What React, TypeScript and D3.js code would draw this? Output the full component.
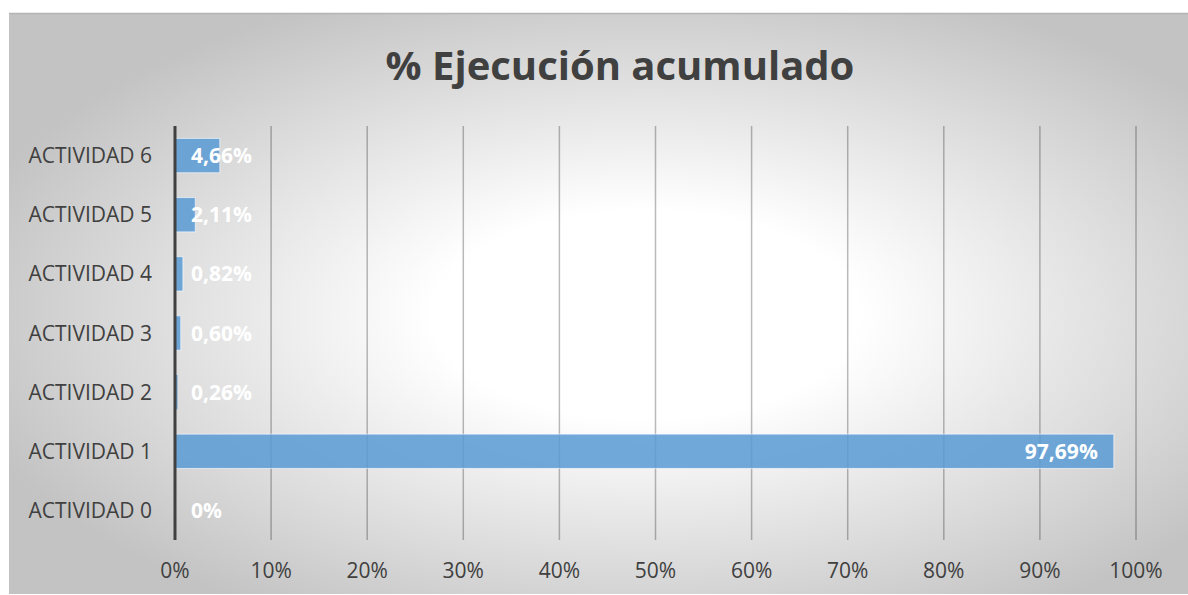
import React from "react";
import * as d3 from "d3";

const categories = ["ACTIVIDAD 0", "ACTIVIDAD 1", "ACTIVIDAD 2", "ACTIVIDAD 3", "ACTIVIDAD 4", "ACTIVIDAD 5", "ACTIVIDAD 6"];
const values = [0, 97.69, 0.26, 0.6, 0.82, 2.11, 4.66];
const valueLabels = ["0%", "97,69%", "0,26%", "0,60%", "0,82%", "2,11%", "4,66%"];
const xTicks = [0, 10, 20, 30, 40, 50, 60, 70, 80, 90, 100];
const title = "% Ejecución acumulado";

const W = 1188;
const H = 595;
const FONT = "'Open Sans', 'Noto Sans', sans-serif";

export default function App() {
  const x = d3.scaleLinear().domain([0, 100]).range([175, 1136]);
  const y = d3
    .scaleBand<string>()
    .domain([...categories].reverse())
    .range([126, 540])
    .paddingInner(0.42)
    .paddingOuter(0.21);

  const x0 = x(0);

  return (
    <svg
      width={W}
      height={H}
      style={{ position: "absolute", left: 0, top: 0, display: "block" }}
      fontFamily={FONT}
    >
      <defs>
        <radialGradient id="bg" cx="0.54" cy="0.52" r="0.6">
          <stop offset="0" stopColor="#ffffff" />
          <stop offset="0.3" stopColor="#ffffff" />
          <stop offset="1" stopColor="#c3c3c3" />
        </radialGradient>
      </defs>
      <rect x={0} y={0} width={W} height={H} fill="#ffffff" />
      <rect x={9} y={13} width={W - 9} height={581} fill="url(#bg)" />
      <line x1={9} x2={W} y1={13.5} y2={13.5} stroke="#b4b4b4" strokeWidth={1.5} />

      <text
        x={620}
        y={80}
        textAnchor="middle"
        fontSize={40}
        fontWeight={700}
        fill="#404040"
      >
        {title}
      </text>

      {xTicks.map((t) => (
        <line
          key={"g" + t}
          x1={x(t)}
          x2={x(t)}
          y1={126}
          y2={540}
          stroke="#000000"
          strokeOpacity={0.27}
          strokeWidth={1.5}
        />
      ))}

      {categories.map((c, i) => {
        const by = y(c)!;
        const bw = x(values[i]) - x0;
        return (
          <rect
            key={"b" + c}
            x={x0}
            y={by}
            width={Math.max(0, bw)}
            height={y.bandwidth()}
            fill="#5b9bd5"
            fillOpacity={0.86}
            stroke="#ffffff"
            strokeOpacity={0.6}
            strokeWidth={bw > 3 ? 1 : 0}
          />
        );
      })}

      <line x1={x0} x2={x0} y1={126} y2={540} stroke="#404040" strokeWidth={3} />

      {categories.map((c, i) => {
        const cy = y(c)! + y.bandwidth() / 2;
        const bw = x(values[i]) - x0;
        const inside = bw > 120;
        return (
          <text
            key={"v" + c}
            x={inside ? x(values[i]) - 16 : x0 + 16}
            y={cy}
            dy="0.36em"
            textAnchor={inside ? "end" : "start"}
            fontSize={21}
            fontWeight={700}
            fill="#ffffff"
          >
            {valueLabels[i]}
          </text>
        );
      })}

      {categories.map((c) => (
        <text
          key={"c" + c}
          x={152}
          y={y(c)! + y.bandwidth() / 2}
          dy="0.36em"
          textAnchor="end"
          fontSize={21}
          fill="#404040"
        >
          {c}
        </text>
      ))}

      {xTicks.map((t) => (
        <text
          key={"t" + t}
          x={x(t)}
          y={578}
          textAnchor="middle"
          fontSize={21}
          fill="#404040"
        >
          {d3.format("d")(t) + "%"}
        </text>
      ))}
    </svg>
  );
}
